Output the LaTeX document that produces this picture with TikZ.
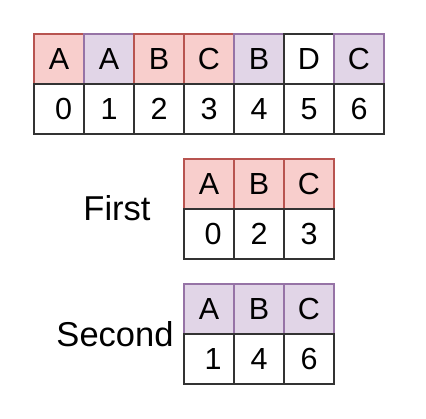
\documentclass[tikz,border=0pt]{standalone}
\usepackage{fontspec}
\setmainfont{Liberation Sans}
\definecolor{redfill}{HTML}{F8CECC}
\definecolor{redline}{HTML}{B85450}
\definecolor{purfill}{HTML}{E1D5E7}
\definecolor{purline}{HTML}{9673A6}
\definecolor{darkline}{HTML}{333333}
\tikzset{
  cell/.style={minimum width=50pt, minimum height=50pt, inner sep=0pt, outer sep=0pt, line width=1.3pt, anchor=center, font=\fontsize{30.5}{30.5}\selectfont},
  redcell/.style={cell, fill=redfill, draw=redline},
  purcell/.style={cell, fill=purfill, draw=purline},
  whitecell/.style={cell, fill=white, draw=darkline},
  numcell/.style={cell, fill=white, draw=darkline},
  biglabel/.style={inner sep=0pt, font=\fontsize{34.5}{34.5}\selectfont}
}
\begin{document}
\begin{tikzpicture}[x=1pt, y=-1pt]
\useasboundingbox[fill=white] (0,0) rectangle (426,419);
% top table, letters
\node[redcell] (t0) at (59,59) {A};
\node[purcell] (t1) at (109,59) {A};
\node[redcell] (t2) at (159,59) {B};
\node[redcell] (t3) at (209,59) {C};
\node[purcell] (t4) at (259,59) {B};
\node[whitecell] (t5) at (309,59) {D};
\node[purcell] (t6) at (359,59) {C};
% top table, indices
\node[numcell] (n0) at (59,109) {\hspace{9pt}0};
\node[numcell] (n1) at (109,109) {1};
\node[numcell] (n2) at (159,109) {2};
\node[numcell] (n3) at (209,109) {3};
\node[numcell] (n4) at (259,109) {4};
\node[numcell] (n5) at (309,109) {5};
\node[numcell] (n6) at (359,109) {6};
% First
\node[biglabel] (first) at (117,208) {First};
\node[redcell] (f0) at (209,184) {A};
\node[redcell] (f1) at (259,184) {B};
\node[redcell] (f2) at (309,184) {C};
\node[numcell] (fn0) at (209,234) {\hspace{8pt}0};
\node[numcell] (fn1) at (259,234) {2};
\node[numcell] (fn2) at (309,234) {3};
% Second
\node[biglabel] (second) at (115,334) {Second};
\node[purcell] (s0) at (209,309) {A};
\node[purcell] (s1) at (259,309) {B};
\node[purcell] (s2) at (309,309) {C};
\node[numcell] (sn0) at (209,359) {\hspace{8pt}1};
\node[numcell] (sn1) at (259,359) {4};
\node[numcell] (sn2) at (309,359) {6};
\end{tikzpicture}
\end{document}
